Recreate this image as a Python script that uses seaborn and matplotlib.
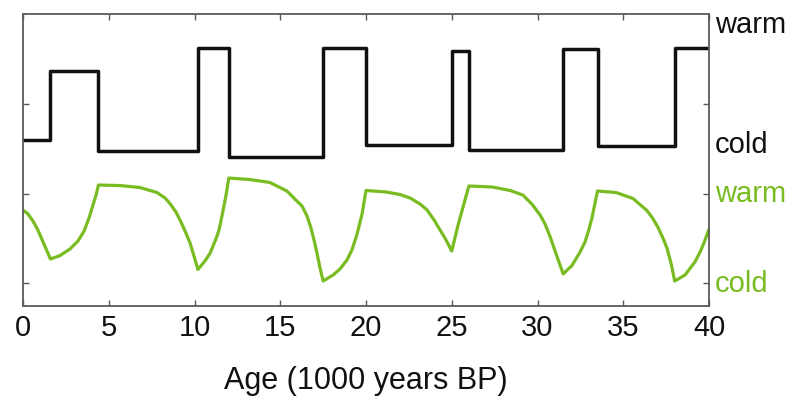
import matplotlib
matplotlib.use("Agg")
import matplotlib.pyplot as plt
import matplotlib.transforms as mtransforms
import pandas as pd
import seaborn as sns

# Abrupt climate switch (black): level holds from each start age to the next
step_age = [0.0, 1.6, 4.4, 10.2, 12.0, 17.5, 20.0, 25.0, 26.0, 31.5, 33.5, 38.0, 40.0]
step_level = [2.60, 3.37, 2.475, 3.63, 2.41, 3.63, 2.54, 3.59, 2.49, 3.61, 2.53, 3.63, 3.63]

# Gradual climate response (green)
resp_age = [0.00, 0.29, 0.58, 0.87, 1.17, 1.60,
            2.16, 2.74, 3.21, 3.56, 3.85, 4.08, 4.26, 4.40,
            5.66, 6.82, 7.81, 8.28, 8.57, 8.92, 9.21, 9.50, 9.74, 9.97, 10.20,
            10.61, 10.90, 11.25, 11.43, 11.66, 11.84, 12.00,
            13.24, 14.40, 15.39, 15.91, 16.27, 16.56, 16.79, 16.97, 17.14, 17.32, 17.50,
            18.08, 18.48, 18.89, 19.18, 19.48, 19.77, 20.00,
            21.17, 21.98, 22.57, 23.15, 23.56, 23.97, 24.32, 24.61, 25.00,
            25.36, 25.60, 26.00,
            27.35, 28.40, 29.15, 29.68, 30.15, 30.44, 30.73, 31.02, 31.50,
            32.01, 32.48, 32.77, 33.00, 33.18, 33.50,
            34.58, 35.57, 36.38, 36.73, 37.03, 37.32, 37.55, 37.80, 38.00,
            38.60, 39.18, 39.48, 39.71, 40.00]
resp_level = [1.816, 1.771, 1.693, 1.592, 1.458, 1.268,
              1.307, 1.380, 1.470, 1.580, 1.726, 1.872, 1.983, 2.095,
              2.089, 2.067, 2.011, 1.950, 1.888, 1.793, 1.682, 1.559, 1.447, 1.302, 1.151,
              1.246, 1.330, 1.492, 1.592, 1.804, 1.983, 2.173,
              2.156, 2.123, 2.028, 1.927, 1.860, 1.749, 1.615, 1.480, 1.335, 1.168, 1.022,
              1.089, 1.156, 1.257, 1.369, 1.547, 1.771, 2.034,
              2.017, 1.989, 1.950, 1.883, 1.816, 1.704, 1.592, 1.500, 1.358,
              1.640, 1.810, 2.084,
              2.073, 2.034, 1.983, 1.880, 1.760, 1.660, 1.520, 1.360, 1.101,
              1.196, 1.346, 1.458, 1.600, 1.730, 2.028,
              2.011, 1.944, 1.810, 1.720, 1.620, 1.500, 1.390, 1.210, 1.022,
              1.089, 1.235, 1.346, 1.450, 1.600]

x_ticks = [0, 5, 10, 15, 20, 25, 30, 35, 40]
state_labels = ["warm", "cold", "warm", "cold"]
state_pos = [3.793, 2.453, 1.905, 0.899]

BLACK = "#111111"
GREEN = "#78bc22"
AXIS = "#5a5a5a"

sns.set_theme(style="white")
plt.rcParams["font.family"] = ["Liberation Sans", "DejaVu Sans"]

fig = plt.figure(figsize=(7.93, 3.97), dpi=100)
ax = fig.add_axes([23 / 793, 1 - 306 / 397, 686 / 793, 292 / 397])

steps = pd.DataFrame({"age": step_age, "level": step_level})
resp = pd.DataFrame({"age": resp_age, "level": resp_level})

sns.lineplot(data=steps, x="age", y="level", ax=ax, color=BLACK,
             linewidth=2.5, drawstyle="steps-post", estimator=None, sort=False)
sns.lineplot(data=resp, x="age", y="level", ax=ax, color=GREEN,
             linewidth=2.3, estimator=None, sort=False)

ax.set_xlim(0, 40)
ax.set_ylim(0.743, 4.006)
ax.set_xticks(x_ticks)
ax.set_xticklabels([str(t) for t in x_ticks], fontsize=21)
ax.set_yticks([1, 2, 3])
ax.set_yticklabels([])
ax.set_ylabel("")
ax.set_xlabel("Age (1000 years BP)", fontsize=22, labelpad=17, color="#111111")

for side in ["left", "right", "top", "bottom"]:
    ax.spines[side].set_visible(True)
    ax.spines[side].set_color(AXIS)
    ax.spines[side].set_linewidth(1.3)
ax.tick_params(axis="both", which="both", direction="in", length=4, width=1,
               color=AXIS, top=True, right=True, bottom=True, left=True,
               labelright=False, labeltop=False, labelleft=False, pad=6)
ax.tick_params(axis="x", labelbottom=True, labelcolor="#111111")

trans = mtransforms.blended_transform_factory(ax.transAxes, ax.transData)
colors = [BLACK, BLACK, GREEN, GREEN]
for lab, pos, col in zip(state_labels, state_pos, colors):
    ax.text(1.009, pos, lab, transform=trans, color=col, fontsize=21,
            ha="left", va="baseline", clip_on=False)

fig.savefig("out.png", dpi=100)
